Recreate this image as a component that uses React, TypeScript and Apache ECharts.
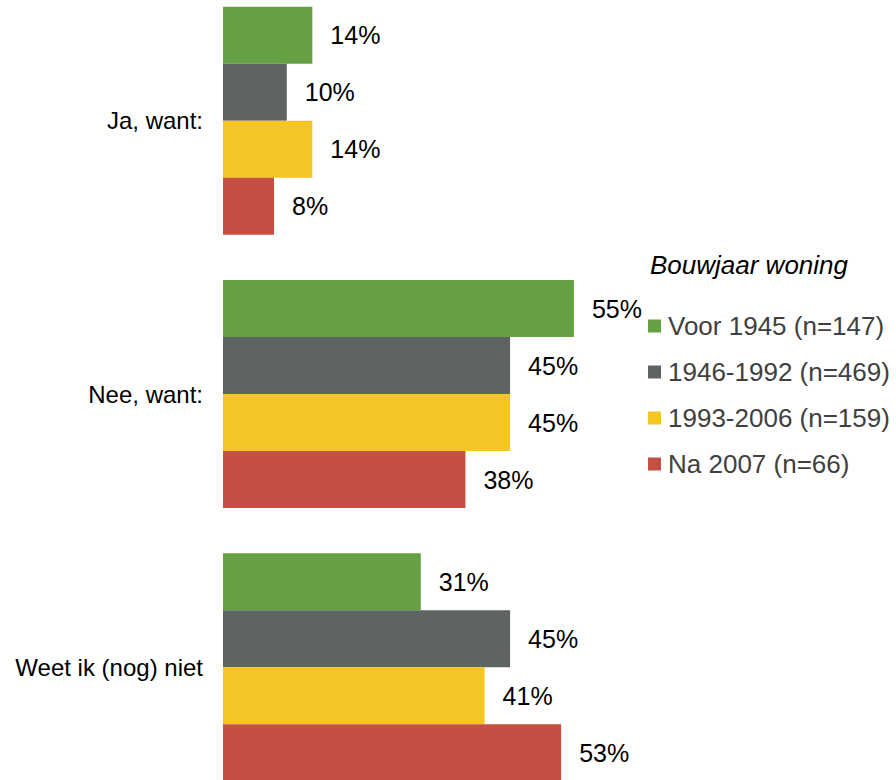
import React, { useEffect, useRef } from "react";
import * as echarts from "echarts";

const categories = ["Ja, want:", "Nee, want:", "Weet ik (nog) niet"];
const seriesNames = [
  "Voor 1945 (n=147)",
  "1946-1992 (n=469)",
  "1993-2006 (n=159)",
  "Na 2007 (n=66)",
];
const voor1945 = [14, 55, 31];
const p1946_1992 = [10, 45, 45];
const p1993_2006 = [14, 45, 41];
const na2007 = [8, 38, 53];
const colors = ["#65a042", "#5e6462", "#f4c524", "#c54f43"];
const legendTitle = "Bouwjaar woning";

const FONT = "'Liberation Sans', Arial, Helvetica, sans-serif";
const SHIFT = 16;

export default function App() {
  const ref = useRef<HTMLDivElement>(null);
  useEffect(() => {
    document.body.style.margin = "0";
    document.body.style.overflow = "hidden";
    if (!ref.current) return;
    const chart = echarts.init(ref.current, undefined, { renderer: "svg" });
    const data = [voor1945, p1946_1992, p1993_2006, na2007];
    chart.setOption({
      animation: false,
      textStyle: { fontFamily: FONT },
      title: {
        text: legendTitle,
        left: 650,
        top: 252 + SHIFT,
        padding: 0,
        textStyle: {
          fontFamily: FONT,
          fontSize: 26,
          fontStyle: "italic",
          fontWeight: "normal",
          color: "#000",
        },
      },
      legend: {
        orient: "vertical",
        left: 648,
        top: 313 + SHIFT,
        padding: 0,
        itemWidth: 13,
        itemHeight: 13,
        itemGap: 20,
        icon: "rect",
        data: seriesNames,
        textStyle: {
          fontFamily: FONT,
          fontSize: 26,
          lineHeight: 26,
          color: "#404040",
          padding: [0, 0, 0, 2],
        },
      },
      grid: {
        left: 223,
        top: 0,
        width: 638,
        height: 820,
        containLabel: false,
      },
      xAxis: {
        type: "value",
        min: 0,
        max: 100,
        show: false,
        splitLine: { show: false },
      },
      yAxis: {
        type: "category",
        data: categories,
        inverse: true,
        axisLine: { show: false },
        axisTick: { show: false },
        axisLabel: {
          margin: 20,
          fontFamily: FONT,
          fontSize: 24,
          color: "#000",
        },
      },
      series: seriesNames.map((name, i) => ({
        name,
        type: "bar",
        data: data[i],
        barWidth: 57,
        barGap: "0%",
        itemStyle: { color: colors[i] },
        label: {
          show: true,
          position: "right",
          distance: 18,
          formatter: "{c}%",
          fontFamily: FONT,
          fontSize: 25,
          color: "#000",
        },
      })),
    });
    return () => chart.dispose();
  }, []);
  return (
    <div
      ref={ref}
      style={{ position: "absolute", left: 0, top: -SHIFT, width: 896, height: 836 }}
    />
  );
}
